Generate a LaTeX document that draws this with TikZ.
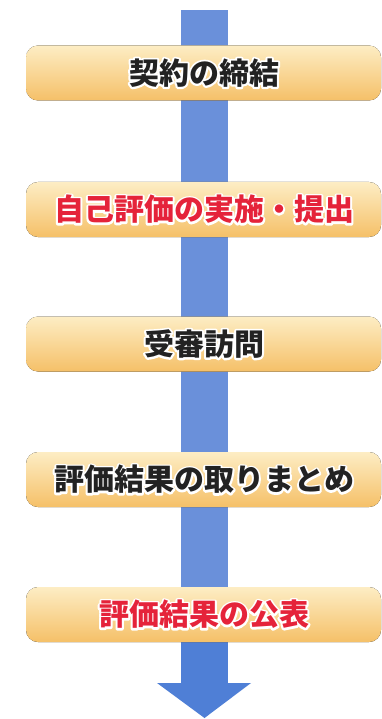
\documentclass[tikz,border=0pt]{standalone}
\usepackage{fontspec}
\newfontfamily\jp{Noto Sans CJK JP}
\usetikzlibrary{calc}
\definecolor{shaftblue}{HTML}{6A90DA}
\definecolor{headblue}{HTML}{4F7FD6}
\definecolor{boxtop}{HTML}{FDEDC4}
\definecolor{boxbot}{HTML}{F5C068}
\definecolor{txtred}{HTML}{E5233A}
\definecolor{txtdark}{HTML}{222222}
\tikzset{
  stepbox/.style={rounded corners=12pt, top color=boxtop, bottom color=boxbot, draw=none},
  steptext/.style={font=\jp\bfseries\fontsize{30}{32}\selectfont, inner sep=0pt},
}
\newcommand{\strokeon}{\special{pdf:literal direct 2 Tr 4 w 1 j 1 1 1 RG}}
\newcommand{\strokeoff}{\special{pdf:literal direct 0 Tr}}
\newcommand{\halolabel}[4]{% name, position, color, text
  \node[steptext, text=white] (#1h) at (#2) {\strokeon#4\strokeoff};
  \node[steptext, text=#3] (#1) at (#2) {#4};
}
\begin{document}
\begin{tikzpicture}[x=1pt,y=-1pt]
\useasboundingbox (0,0) rectangle (382,719);
\fill[white] (0,0) rectangle (382,719);
% arrow
\coordinate (atip) at (204.5,718);
\fill[shaftblue] (181,10) rectangle (228,684);
\fill[headblue] (181,640) rectangle (228,684);
\fill[headblue] (157,683) -- (251,683) -- (atip) -- cycle;
% boxes
\foreach \n/\yc in {1/73,2/209.5,3/344,4/479.5,5/614.5}{
  \fill[stepbox] (26,\yc-27.5) rectangle (381,\yc+27.5);
  \coordinate (c\n) at (204,\yc);
}
\halolabel{t1}{c1}{txtdark}{契約の締結}
\halolabel{t2}{c2}{txtred}{自己評価の実施・提出}
\halolabel{t3}{c3}{txtdark}{受審訪問}
\halolabel{t4}{c4}{txtdark}{評価結果の取りまとめ}
\halolabel{t5}{c5}{txtred}{評価結果の公表}
\end{tikzpicture}
\end{document}
